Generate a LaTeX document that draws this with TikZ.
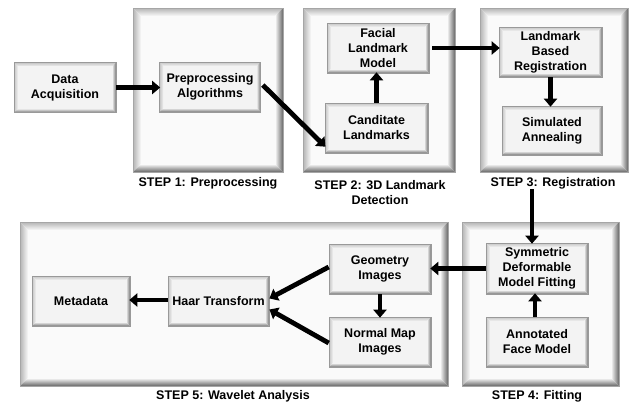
\documentclass[tikz,border=0pt]{standalone}
\usepackage{fontspec}
\setmainfont{Liberation Sans}
\usetikzlibrary{arrows.meta,calc}
\newcommand\mybevel[4]{%
  \coordinate (bvA) at (path picture bounding box.north west);
  \coordinate (bvB) at (path picture bounding box.south east);
  \coordinate (bvNE) at (bvA -| bvB);
  \coordinate (bvSW) at (bvA |- bvB);
  \coordinate (iNW) at ([shift={(#1,-#1)}]bvA);
  \coordinate (iSE) at ([shift={(-#1,#1)}]bvB);
  \coordinate (iNE) at ([shift={(-#1,-#1)}]bvNE);
  \coordinate (iSW) at ([shift={(#1,#1)}]bvSW);
  \shade[top color=#2, bottom color=#4] (bvA) -- (bvNE) -- (iNE) -- (iNW) -- cycle;
  \shade[left color=#2, right color=#4] (bvA) -- (iNW) -- (iSW) -- (bvSW) -- cycle;
  \shade[right color=#3, left color=#4] (bvNE) -- (bvB) -- (iSE) -- (iNE) -- cycle;
  \shade[bottom color=#3, top color=#4] (bvSW) -- (iSW) -- (iSE) -- (bvB) -- cycle;
  \fill[#4] (iNW) rectangle (iSE);
}
\definecolor{ftop}{HTML}{B4B4B4}
\definecolor{fbot}{HTML}{666666}
\definecolor{fin}{HTML}{FAFAFA}
\definecolor{btop}{HTML}{C4C4C4}
\definecolor{bbot}{HTML}{787878}
\definecolor{bin}{HTML}{F3F3F3}
\tikzset{
  frame/.style={draw=gray!70, line width=0.6pt, inner sep=0pt,
    path picture={\mybevel{8pt}{ftop}{fbot}{fin}}},
  box/.style={draw=gray!80, line width=0.6pt, inner sep=0pt, align=center,
    font=\bfseries\fontsize{12.5}{15}\selectfont,
    path picture={\mybevel{4pt}{btop}{bbot}{bin}}},
  steplabel/.style={align=center, inner sep=0pt,
    font=\bfseries\fontsize{12.5}{15}\selectfont},
  conn/.style={line width=4.8pt, -{Triangle[width=13pt,length=8pt]}, shorten >=-1pt},
}
\begin{document}
\begin{tikzpicture}[x=1pt, y={(0pt,-1pt)}]
\fill[white] (0,0) rectangle (629,407);
\useasboundingbox (0,0) rectangle (629,407);
% frames
\node[frame, minimum width=150pt, minimum height=164pt] (f1) at (208,90) {};
\node[frame, minimum width=152pt, minimum height=164pt] (f2) at (379,90) {};
\node[frame, minimum width=148pt, minimum height=164pt] (f3) at (554,90) {};
\node[frame, minimum width=428pt, minimum height=164pt] (f5) at (234,304) {};
\node[frame, minimum width=157pt, minimum height=164pt] (f4) at (540.5,304) {};
% labels
\node[steplabel] (l1) at (208,183) {STEP 1: Preprocessing};
\node[steplabel] (l2) at (380,192.5) {STEP 2: 3D Landmark\\Detection};
\node[steplabel] (l3) at (553,183) {STEP 3: Registration};
\node[steplabel] (l5) at (233,396) {STEP 5: Wavelet Analysis};
\node[steplabel] (l4) at (537,396) {STEP 4: Fitting};
% boxes
\node[box, minimum width=102pt, minimum height=50pt] (da) at (65,87.5) {Data\\Acquisition};
\node[box, minimum width=101pt, minimum height=50pt] (pa) at (210,87) {Preprocessing\\Algorithms};
\node[box, minimum width=102pt, minimum height=50pt] (flm) at (378,48) {Facial\\Landmark\\Model};
\node[box, minimum width=103pt, minimum height=50pt] (cl) at (376.5,128) {Canditate\\Landmarks};
\node[box, minimum width=103pt, minimum height=50pt] (lbr) at (550.5,52) {Landmark\\Based\\Registration};
\node[box, minimum width=100pt, minimum height=49pt] (sa) at (552,130.5) {Simulated\\Annealing};
\node[box, minimum width=98pt, minimum height=50pt] (md) at (81,301) {Metadata};
\node[box, minimum width=101pt, minimum height=50pt] (ht) at (218.5,301) {Haar Transform};
\node[box, minimum width=102pt, minimum height=50pt] (gi) at (380,269) {Geometry\\Images};
\node[box, minimum width=102pt, minimum height=50pt] (nmi) at (380,342) {Normal Map\\Images};
\node[box, minimum width=102pt, minimum height=51pt] (sdmf) at (537,268.5) {Symmetric\\Deformable\\Model Fitting};
\node[box, minimum width=102pt, minimum height=50pt] (afm) at (537,342) {Annotated\\Face Model};
% connectors
\coordinate (c3) at (532,189);
\draw[conn] (da.east) -- (da.east -| pa.west);
\draw[conn] ([xshift=2pt,yshift=2pt]pa.east) -- ([yshift=-18pt]cl.west);
\draw[conn] (cl.north) -- (cl.north |- flm.south);
\draw[conn] ([xshift=3pt]flm.east) -- (flm.east -| lbr.west);
\draw[conn] (lbr.south) -- (lbr.south |- sa.north);
\draw[conn, shorten <=0pt] (c3) -- (c3 |- sdmf.north);
\draw[conn] (sdmf.west) -- (sdmf.west -| gi.east);
\draw[conn] (gi.south) -- (gi.south |- nmi.north);
\draw[conn] ([xshift=-2pt]afm.north) -- ([xshift=-2pt]afm.north |- sdmf.south);
\draw[conn] ([yshift=2pt]gi.west) -- ([yshift=3pt,xshift=1pt]ht.east);
\draw[conn] ([yshift=-1pt]nmi.west) -- ([yshift=-9pt,xshift=1pt]ht.east);
\draw[conn] ([yshift=1pt]ht.west) -- ([yshift=1pt]ht.west -| md.east);
\end{tikzpicture}
\end{document}
